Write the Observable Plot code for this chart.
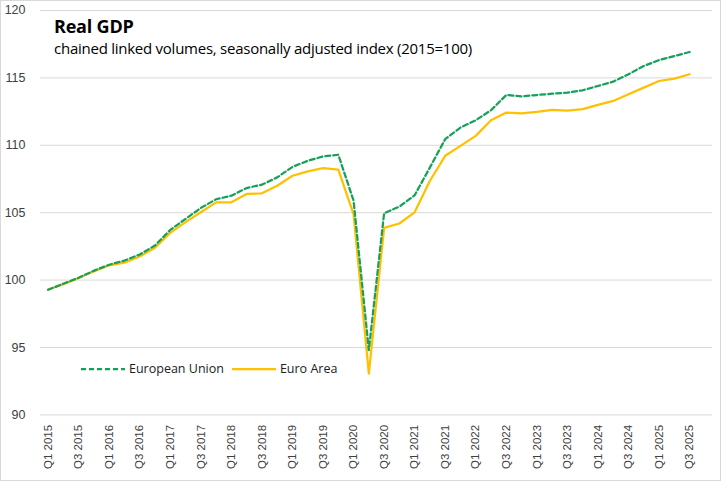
<!DOCTYPE html>
<html>
<head>
<meta charset="utf-8">
<script src="https://cdn.jsdelivr.net/npm/d3@7"></script>
<script src="https://cdn.jsdelivr.net/npm/@observablehq/plot@0.6"></script>
<style>
  html, body { margin: 0; padding: 0; background: #fff; }
  #wrap { position: relative; width: 721px; height: 481px; box-sizing: border-box; border: 1px solid #d9d9d9; overflow: hidden; }
  #chart { position: absolute; left: -1px; top: -1px; }
  #title { position: absolute; left: 53px; top: 13px; font: bold 18px "Open Sans", "Noto Sans", sans-serif; color: #000; letter-spacing: -0.2px; }
  #subtitle { position: absolute; left: 53px; top: 37px; font: 15px "Open Sans", "Noto Sans", sans-serif; color: #000; letter-spacing: -0.25px; }
  #legend { position: absolute; left: 80px; top: 359px; font: 12.5px "Open Sans", "Noto Sans", sans-serif; color: #222; display: flex; align-items: center; }
  #legend span { margin-right: 8px; }
  #legend svg { margin-right: 4px; }
</style>
</head>
<body>
<div id="wrap">
  <div id="chart"></div>
  <div id="title">Real GDP</div>
  <div id="subtitle">chained linked volumes, seasonally adjusted index (2015=100)</div>
  <div id="legend">
    <svg width="44" height="10"><line x1="0" y1="5" x2="44" y2="5" stroke="#16a05a" stroke-width="2.25" stroke-dasharray="5,3"/></svg><span>European Union</span>
    <svg width="44" height="10"><line x1="0" y1="5" x2="44" y2="5" stroke="#FFC000" stroke-width="2.25"/></svg><span>Euro Area</span>
  </div>
</div>
<script>
const quarters = [];
for (let y = 2015; y <= 2025; y++) for (let q = 1; q <= 4; q++) quarters.push(`Q${q} ${y}`);
quarters.length = 43; // Q1 2015 .. Q3 2025

const euValues = [99.28, 99.73, 100.18, 100.7, 101.14, 101.45, 101.9, 102.57, 103.72, 104.54,
  105.35, 106.0, 106.26, 106.83, 107.08, 107.62, 108.4, 108.85, 109.17, 109.3,
  105.9, 94.8, 104.96, 105.45, 106.3, 108.36, 110.46, 111.32, 111.86, 112.6,
  113.73, 113.63, 113.73, 113.83, 113.9, 114.08, 114.4, 114.72, 115.27, 115.88,
  116.32, 116.62, 116.92];
const eaValues = [99.3, 99.7, 100.15, 100.65, 101.1, 101.3, 101.75, 102.4, 103.5, 104.3,
  105.03, 105.77, 105.77, 106.39, 106.44, 107.0, 107.74, 108.07, 108.31, 108.19,
  104.9, 93.07, 103.87, 104.2, 105.03, 107.37, 109.22, 109.96, 110.7, 111.86,
  112.43, 112.36, 112.48, 112.63, 112.58, 112.68, 113.0, 113.29, 113.79, 114.28,
  114.77, 114.94, 115.27];
const yTicks = [90, 95, 100, 105, 110, 115, 120];
const xTickIdx = quarters.map((q, i) => i).filter(i => i % 2 === 0);

const eu = quarters.map((q, i) => ({i, q, v: euValues[i]}));
const ea = quarters.map((q, i) => ({i, q, v: eaValues[i]}));

const chart = Plot.plot({
  width: 721,
  height: 481,
  marginLeft: 40,
  marginRight: 8,
  marginTop: 10,
  marginBottom: 66,
  style: {fontFamily: "'Liberation Sans', Arial, sans-serif", fontSize: "12px", color: "#404040", background: "transparent", overflow: "visible"},
  x: {type: "linear", domain: [-0.5, 43.5]},
  y: {domain: [90, 120]},
  marks: [
    Plot.gridY(yTicks, {stroke: "#d9d9d9", strokeOpacity: 1, strokeWidth: 1}),
    Plot.axisY({ticks: yTicks, tickSize: 0, tickPadding: 15, fontSize: 12.5, label: null}),
    Plot.axisX({ticks: xTickIdx, tickFormat: i => quarters[i], tickSize: 0, tickRotate: -90, tickPadding: 10, fontSize: 11.5, label: null}),
    Plot.line(ea, {x: "i", y: "v", stroke: "#FFC000", strokeWidth: 2.25}),
    Plot.line(eu, {x: "i", y: "v", stroke: "#16a05a", strokeWidth: 2.25, strokeDasharray: "5,3"})
  ]
});
document.getElementById("chart").appendChild(chart);
</script>
</body>
</html>
